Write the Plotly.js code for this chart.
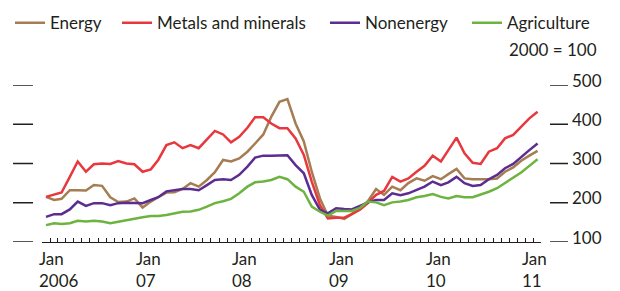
<!DOCTYPE html>
<html>
<head>
<meta charset="utf-8">
<script src="https://cdn.plot.ly/plotly-3.0.1.min.js"></script>
<style>html,body{margin:0;padding:0;background:#fff;}#chart{width:620px;height:291px;}</style>
</head>
<body>
<div id="chart"></div>
<script>
// Monthly, Jan 2006 – Feb 2011 (index, 2000 = 100)
const startYear = 2006;
const nMonths = 62;
const energy = [215,207,210,232,232,231,245,243,214,202,203,211,188,203,214,226,227,235,250,241,258,278,309,305,313,330,351,374,419,457,464,402,356,279,211,167,164,159,171,184,204,235,220,241,232,250,262,256,268,260,273,286,262,260,260,260,262,279,290,307,320,332];
const metals = [215,220,226,266,305,279,298,300,299,306,300,298,279,285,309,347,354,339,347,339,360,383,374,354,368,391,418,418,402,390,390,364,322,254,194,160,162,162,171,182,199,220,230,266,254,262,279,294,320,305,334,366,326,302,299,330,339,364,373,394,415,432];
const nonenergy = [164,171,171,183,203,192,199,199,194,199,200,200,199,207,214,229,232,235,235,232,245,258,260,258,271,292,315,320,320,321,321,296,275,220,182,173,186,184,183,192,201,207,207,224,219,224,232,241,254,245,252,266,250,243,245,260,271,288,299,317,334,351];
const agriculture = [143,148,146,148,154,152,154,152,148,152,156,160,163,166,166,169,173,177,178,182,190,199,204,210,224,241,252,254,258,266,260,241,228,190,177,167,179,179,179,187,203,201,194,201,203,207,214,217,222,215,211,217,214,214,220,228,237,250,262,277,294,311];
const seriesNames = ["Energy","Metals and minerals","Nonenergy","Agriculture"];
const seriesColors = ["#a67c52","#e8383d","#5c2d91","#6db33f"];
const seriesLegends = ["legend","legend2","legend3","legend4"];
const yTicks = [100,200,300,400,500];
const xMonthLabels = ["Jan","Jan","Jan","Jan","Jan","Jan"];
const xYearLabels = ["2006","07","08","09","10","11"];

function pad(n){return (n<10?"0":"")+n;}
const dates = [];
for (let i=0;i<nMonths;i++){
  const y = startYear + Math.floor(i/12), m = i%12 + 1;
  dates.push(y+"-"+pad(m)+"-16");
}
const allSeries = [energy, metals, nonenergy, agriculture];
const traces = allSeries.map((vals,k)=>({
  x: dates, y: vals, type:"scatter", mode:"lines", name: seriesNames[k], legend: seriesLegends[k],
  line:{color: seriesColors[k], width:2.5}
}));

const FONT = "Lato, 'Liberation Sans', Arial, sans-serif";
const TXT = "#231f20";
const annotations = [];
xYearLabels.forEach((yl,i)=>{
  const d = (startYear+i)+"-01-01";
  annotations.push({x:d, xref:"x", y:-0.102, yref:"paper", text:xMonthLabels[i], showarrow:false, xanchor:"left", yanchor:"middle", xshift:-5, font:{family:FONT,size:17,color:TXT}});
  annotations.push({x:d, xref:"x", y:-0.248, yref:"paper", text:yl, showarrow:false, xanchor:"left", yanchor:"middle", xshift:-5, font:{family:FONT,size:17,color:TXT}});
});
yTicks.forEach(v=>{
  annotations.push({x:(570-42)/499, xref:"paper", y:v, yref:"y", text:String(v), showarrow:false, xanchor:"left", yanchor:"middle", yshift:5, font:{family:FONT,size:17,color:TXT}});
});
annotations.push({x:1.116, xref:"paper", y:1.229, yref:"paper", text:"2000 = 100", showarrow:false, xanchor:"right", yanchor:"middle", font:{family:FONT,size:17,color:TXT}});

const shapes = [];
yTicks.forEach(v=>{
  shapes.push({type:"line", xref:"paper", yref:"y", x0:(13-42)/499, x1:(33-42)/499, y0:v, y1:v, line:{color:TXT,width:1.5}});
  shapes.push({type:"line", xref:"paper", yref:"y", x0:(550-42)/499, x1:(568-42)/499, y0:v, y1:v, line:{color:TXT,width:1.5}});
});

const legendCommon = {orientation:"h", xanchor:"left", yanchor:"middle", font:{family:FONT,size:17,color:TXT}, bgcolor:"rgba(0,0,0,0)", itemwidth:30, tracegroupgap:0, y:1.393};
const legendTextStarts = [51, 158, 366, 508];
const layout = {
  width:620, height:291,
  margin:{l:42, r:79, t:85, b:49, autoexpand:false},
  paper_bgcolor:"#fff", plot_bgcolor:"#fff",
  font:{family:FONT, size:17, color:TXT},
  showlegend:true,
  xaxis:{type:"date", range:["2006-01-01","2011-03-01"], showgrid:false, zeroline:false,
    showline:true, linecolor:TXT, linewidth:1.3, ticks:"inside", ticklen:4, tickwidth:1, tickcolor:TXT,
    dtick:"M1", tick0:"2006-01-01", showticklabels:false, fixedrange:true},
  yaxis:{range:[100,500], side:"right", showgrid:false, zeroline:false, showline:false, ticks:"",
    tickvals:yTicks, showticklabels:false, fixedrange:true},
  annotations: annotations,
  shapes: shapes
};
seriesLegends.forEach((lg,k)=>{
  layout[lg] = Object.assign({}, legendCommon, {x:(legendTextStarts[k]-41-42)/499});
});
Plotly.newPlot("chart", traces, layout, {staticPlot:true, displayModeBar:false});
</script>
</body>
</html>
